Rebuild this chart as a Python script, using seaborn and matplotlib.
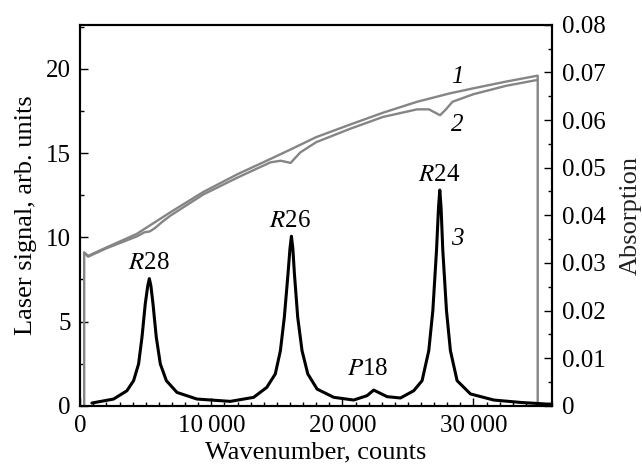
import matplotlib
matplotlib.use("Agg")
import matplotlib.pyplot as plt
import seaborn as sns
import pandas as pd
from matplotlib.ticker import MultipleLocator, FuncFormatter

# Curva 1: senal del laser sin gas (eje izquierdo)
wn_1 = [300, 300, 600, 2000, 4300, 6900, 9400, 12000, 14500, 16000, 18000,
        20600, 23100, 25700, 28200, 30000, 32500, 34900, 34900]
signal_1 = [0, 9.1, 8.9, 9.4, 10.2, 11.5, 12.7, 13.75, 14.65, 15.2, 15.95,
            16.7, 17.4, 18.05, 18.55, 18.85, 19.25, 19.6, 0]

# Curva 2: senal del laser con gas (eje izquierdo)
wn_2 = [300, 600, 2000, 4300, 4900, 5300, 5700, 6300, 6900, 9400, 12000,
        14500, 15300, 16050, 16500, 16800, 18000, 20600, 23100, 25700, 26600,
        27450, 27900, 28400, 30000, 32500, 34900]
signal_2 = [9.1, 8.85, 9.35, 10.05, 10.3, 10.35, 10.55, 10.95, 11.3, 12.55, 13.55,
            14.45, 14.55, 14.42, 14.8, 15.05, 15.65, 16.45, 17.15, 17.6, 17.6,
            17.25, 17.6, 18.05, 18.5, 19.0, 19.35]

# Curva 3: absorcion (eje derecho)
wn_3 = [890, 2545, 3560, 4070, 4450, 4710, 4960, 5150, 5270, 5390, 5550, 5800,
        6110, 6570, 7380, 8900, 11450, 13230, 14230, 14880, 15270, 15570,
        15850, 16000, 16110, 16220, 16340, 16590, 16920, 17360, 18070, 19340,
        20860, 21880, 22390, 23410, 24430, 25440, 26080, 26590, 26900, 27180,
        27330, 27430, 27530, 27660, 27940, 28240, 28750, 29770, 31550, 33590,
        35620, 36000]
absorption_3 = [0.00057, 0.00141, 0.00315, 0.00527, 0.00877, 0.0144, 0.0214,
                0.0252, 0.0267, 0.0252, 0.0214, 0.0144, 0.00877, 0.00527,
                0.0028, 0.00141, 0.00092, 0.00177, 0.00386, 0.00668, 0.01157,
                0.0186, 0.0277, 0.0330, 0.0356, 0.0330, 0.0277, 0.0186,
                0.01157, 0.00668, 0.0035, 0.00177, 0.0012, 0.00212, 0.00329,
                0.00191, 0.00163, 0.00315, 0.00527, 0.01157, 0.02, 0.03265,
                0.0415, 0.0453, 0.0415, 0.03265, 0.02, 0.01157, 0.00527,
                0.00248, 0.0012, 0.0007, 0.00035, 0.00035]

# Etiquetas de picos
peak_labels = ["R28", "R26", "P18", "R24"]
peak_x = [5270, 15980, 21900, 27350]
peak_y = [8.5, 11.0, 2.2, 13.7]

sns.set_style("ticks")
plt.rcParams['font.family'] = 'serif'
plt.rcParams['font.serif'] = ['Liberation Serif', 'DejaVu Serif']
plt.rcParams['mathtext.fontset'] = 'stix'
for clave in ['text.color', 'axes.labelcolor', 'xtick.color', 'ytick.color',
              'axes.edgecolor']:
    plt.rcParams[clave] = 'black'

fig, ax = plt.subplots(figsize=(6.42, 4.68), dpi=100)
fig.subplots_adjust(left=0.125, right=0.86, top=0.947, bottom=0.133)
ax2 = ax.twinx()

gris = "#858585"
df1 = pd.DataFrame({"x": wn_1, "y": signal_1})
df2 = pd.DataFrame({"x": wn_2, "y": signal_2})
df3 = pd.DataFrame({"x": wn_3, "y": absorption_3})
sns.lineplot(data=df1, x="x", y="y", ax=ax, color=gris, lw=1.7,
             sort=False, estimator=None)
sns.lineplot(data=df2, x="x", y="y", ax=ax, color=gris, lw=1.7,
             sort=False, estimator=None)
sns.lineplot(data=df3, x="x", y="y", ax=ax2, color="black", lw=2.2,
             sort=False, estimator=None)

ax.set_xlim(0, 36000)
ax.set_ylim(0, 22.62)
ax2.set_ylim(0, 0.08)

fs = 18
ax.xaxis.set_major_locator(MultipleLocator(10000))
ax.xaxis.set_minor_locator(MultipleLocator(1000))
ax.xaxis.set_major_formatter(FuncFormatter(
    lambda v, p: "0" if v == 0 else f"{int(v):,}".replace(",", "\u2009")))
ax.yaxis.set_major_locator(MultipleLocator(5))
ax.yaxis.set_minor_locator(MultipleLocator(2.5))
ax2.yaxis.set_major_locator(MultipleLocator(0.01))
ax2.yaxis.set_minor_locator(MultipleLocator(0.005))
ax2.yaxis.set_major_formatter(FuncFormatter(
    lambda v, p: "0" if abs(v) < 1e-9 else f"{v:.2f}"))

for a in (ax, ax2):
    a.tick_params(which="major", direction="in", length=6, width=1,
                  labelsize=fs, pad=7, colors="black")
    a.tick_params(which="minor", direction="in", length=3, width=1,
                  colors="black")
    for s in a.spines.values():
        s.set_linewidth(1.5)
        s.set_color("black")
        s.set_visible(True)

ax.set_xlabel("Wavenumber, counts", fontsize=fs + 1, labelpad=3)
ax.set_ylabel("Laser signal, arb. units", fontsize=fs + 1, labelpad=6)
ax2.set_ylabel("Absorption", fontsize=fs + 1, labelpad=10, color="#222222")

for lab, x, y in zip(peak_labels, peak_x, peak_y):
    ax.text(x, y, r"$\mathit{" + lab[0] + "}$" + lab[1:], fontsize=fs,
            ha="center", va="center")

ax.text(28750, 19.55, "1", fontsize=fs, style="italic", ha="center", va="center")
ax.text(28750, 16.67, "2", fontsize=fs, style="italic", ha="center", va="center")
ax.text(28750, 9.92, "3", fontsize=fs, style="italic", ha="center", va="center")

fig.savefig("out.png", dpi=100)
